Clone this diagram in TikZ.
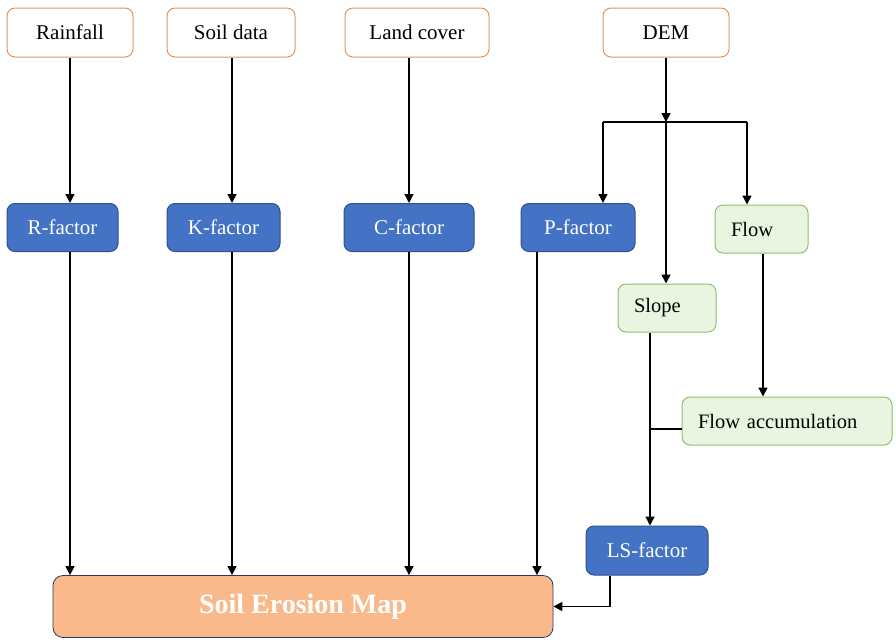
\documentclass[tikz,border=0pt]{standalone}
\usepackage{fontspec}
\setmainfont{Liberation Serif}
\usetikzlibrary{arrows.meta}

\definecolor{srcline}{HTML}{E0955E}
\definecolor{facfill}{HTML}{4472C4}
\definecolor{facline}{HTML}{2F528F}
\definecolor{derfill}{HTML}{EAF5E1}
\definecolor{derline}{HTML}{8FC06C}
\definecolor{mapfill}{HTML}{F9B98A}
\definecolor{mapline}{HTML}{2B3A5C}

\tikzset{
  source/.style={draw=srcline, fill=white, line width=1pt, rounded corners=8pt,
    minimum height=49pt, inner sep=0pt, font=\fontsize{21}{25}\selectfont},
  factor/.style={draw=facline, fill=facfill, text=white, line width=1pt, rounded corners=8pt,
    minimum height=48pt, inner sep=0pt, font=\fontsize{21}{25}\selectfont},
  derived/.style={draw=derline, fill=derfill, line width=1pt, rounded corners=8pt,
    minimum height=48pt, inner xsep=16pt, inner ysep=0pt, align=left, font=\fontsize{20.5}{24}\selectfont},
  result/.style={draw=mapline, fill=mapfill, text=white, line width=0.8pt, rounded corners=10pt,
    minimum width=500pt, minimum height=62pt, inner sep=0pt, font=\bfseries\fontsize{28}{32}\selectfont},
  link/.style={line width=1.4pt},
  flowarrow/.style={link, -{Triangle[length=9pt,width=9pt]}}
}

\begin{document}
\begin{tikzpicture}[x=1pt,y=-1pt]
  \useasboundingbox (0,0) rectangle (896,643);

  \node[source, minimum width=126pt] (rain) at (70,32.5) {Rainfall};
  \node[source, minimum width=128pt] (soil) at (231,32.5) {Soil data};
  \node[source, minimum width=144pt] (land) at (417,32.5) {Land cover};
  \node[source, minimum width=126pt] (dem) at (666,32.5) {DEM};

  \node[factor, minimum width=111pt] (rfac) at (62.5,227.5) {R-factor};
  \node[factor, minimum width=113pt] (kfac) at (223.5,227.5) {K-factor};
  \node[factor, minimum width=130pt] (cfac) at (409,227.5) {C-factor};
  \node[factor, minimum width=114pt] (pfac) at (578,227.5) {P-factor};

  \node[derived, text width=61pt] (flow) at (761.5,229) {Flow};
  \node[derived, text width=66pt] (slope) at (667,308) {Slope};
  \node[derived, text width=178pt] (facc) at (787,421) {Flow accumulation};

  \node[factor, minimum width=122pt, minimum height=49pt] (ls) at (647,550.5) {LS-factor};
  \node[result] (map) at (303,606.5) {Soil Erosion Map};

  \coordinate (split) at (666,122);
  \coordinate (pin) at (603,122);
  \coordinate (fin) at (747,122);
  \coordinate (pout) at (537,0);
  \coordinate (fdown) at (763,0);
  \coordinate (sdown) at (650,429);
  \coordinate (lsout) at (610,0);

  \draw[flowarrow] (rain) -- (rain |- rfac.north);
  \draw[flowarrow] (soil.south -| 232,0) -- (rfac.north -| 232,0);
  \draw[flowarrow] (land.south -| cfac) -- (cfac.north);
  \draw[flowarrow] (dem) -- (split);
  \draw[link] (pin) -- (fin);
  \draw[flowarrow] (pin) -- (pin |- pfac.north);
  \draw[flowarrow] (fin) -- (fin |- flow.north);
  \draw[flowarrow] (split) -- (split |- slope.north);

  \draw[flowarrow] (flow.south -| fdown) -- (facc.north -| fdown);
  \draw[link] (facc.west |- sdown) -- (sdown);
  \draw[flowarrow] (slope.south -| sdown) -- (ls.north -| sdown);

  \draw[flowarrow] (rfac.south -| rain) -- (map.north -| rain);
  \draw[flowarrow] (kfac.south -| 232,0) -- (map.north -| 232,0);
  \draw[flowarrow] (cfac.south) -- (map.north -| cfac);
  \draw[flowarrow] (pfac.south -| pout) -- (map.north -| pout);
  \draw[flowarrow] (ls.south -| lsout) |- (map.east);
\end{tikzpicture}
\end{document}
